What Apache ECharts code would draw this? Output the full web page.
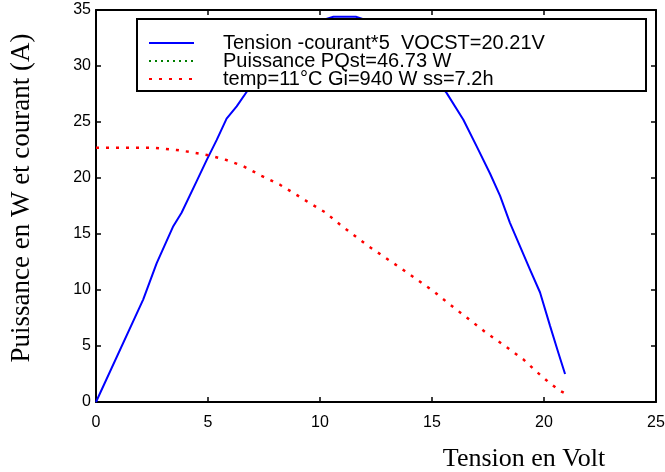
<!DOCTYPE html>
<html>
<head>
<meta charset="utf-8">
<script src="https://cdn.jsdelivr.net/npm/echarts@6/dist/echarts.min.js"></script>
<style>html,body{margin:0;padding:0;background:#fff}#c{width:665px;height:472px}</style>
</head>
<body>
<div id="c"></div>
<script>
var xTicks = [0, 5, 10, 15, 20, 25];
var yTicks = [0, 5, 10, 15, 20, 25, 30, 35];
var seriesNames = ['Tension -courant*5  VOCST=20.21V', 'Puissance PQst=46.73 W', 'temp=11\u00b0C Gi=940 W ss=7.2h'];

var blueX = [0, 2.11, 2.71, 3.45, 3.82, 4.49, 4.94, 5.39, 5.83, 6.28, 6.73, 7.5, 8.5, 9.5, 10.6, 11.6, 12.5, 13.5, 14.5, 15.65, 16.4, 17.0, 17.59, 18.04, 18.48, 18.93, 19.38, 19.82, 20.27, 20.64, 20.94];
var blueY = [0, 9.17, 12.4, 15.7, 16.9, 19.7, 21.6, 23.4, 25.3, 26.4, 27.7, 30.0, 32.3, 33.7, 34.4, 34.4, 33.8, 32.3, 30.3, 27.6, 25.2, 22.8, 20.4, 18.4, 16.0, 13.9, 11.8, 9.8, 6.8, 4.4, 2.5];

var greenX = [];
var greenY = [];

var redX = [0, 2.56, 3.6, 4.27, 5.09, 5.83, 6.58, 7.39, 8.21, 9.03, 9.55, 10.22, 10.89, 12.1, 13.57, 15.06, 15.8, 16.77, 17.37, 18.26, 19.08, 19.67, 20.19, 20.71, 20.94];
var redY = [22.7, 22.7, 22.5, 22.3, 22.0, 21.6, 21.05, 20.2, 19.4, 18.4, 17.75, 16.95, 15.85, 14.0, 12.0, 9.9, 8.7, 7.2, 6.26, 5.0, 3.8, 2.7, 1.8, 1.0, 0.77];

function pairs(xs, ys) { return xs.map(function (x, i) { return [x, ys[i]]; }); }

var chart = echarts.init(document.getElementById('c'), null, {renderer: 'canvas'});
var axisFont = {fontFamily: 'Liberation Sans, Arial, sans-serif', fontSize: 16, color: '#000'};
var lineAx = {lineStyle: {color: '#000', width: 2}, onZero: false};
var tickIn = {inside: true, length: 5, lineStyle: {color: '#000', width: 1.5}};
var serif = 'Liberation Serif, Times New Roman, serif';

chart.setOption({
  animation: false,
  backgroundColor: '#fff',
  grid: {left: 96, right: 9, top: 10, bottom: 70, containLabel: false, outerBoundsMode: 'none'},
  xAxis: [{
    type: 'value', min: 0, max: 25, interval: 5,
    axisLine: lineAx, axisTick: tickIn, splitLine: {show: false},
    axisLabel: Object.assign({margin: 13, formatter: function (v) { return xTicks.indexOf(v) >= 0 ? String(v) : ''; }}, axisFont),
    name: 'Tension en Volt', nameLocation: 'middle', nameGap: 44,
    nameTextStyle: {fontFamily: serif, fontSize: 26, color: '#000', padding: [0, 0, 0, 296]}
  }, {
    type: 'value', position: 'top', min: 0, max: 25, interval: 5,
    axisLine: lineAx, axisTick: tickIn, axisLabel: {show: false}, splitLine: {show: false}
  }],
  yAxis: [{
    type: 'value', min: 0, max: 35, interval: 5,
    axisLine: lineAx, axisTick: tickIn, splitLine: {show: false},
    axisLabel: Object.assign({margin: 5, padding: [7, 0, 0, 0], formatter: function (v) { return yTicks.indexOf(v) >= 0 ? String(v) : ''; }}, axisFont),
    name: 'Puissance en W et courant (A)', nameLocation: 'middle', nameGap: 61,
    nameTextStyle: {fontFamily: serif, fontSize: 27, color: '#000', padding: [0, 0, 0, 16]}
  }, {
    type: 'value', position: 'right', min: 0, max: 35, interval: 5,
    axisLine: lineAx, axisTick: tickIn, axisLabel: {show: false}, splitLine: {show: false}
  }],
  legend: {
    orient: 'vertical', left: 148, top: 33, itemGap: -2, itemWidth: 45, itemHeight: 12,
    padding: 0, z: 10,
    itemStyle: {opacity: 0},
    textStyle: {fontFamily: 'Liberation Sans, Arial, sans-serif', fontSize: 20, lineHeight: 13, color: '#000', padding: [5, 0, 0, 24]},
    data: seriesNames
  },
  graphic: [{
    type: 'rect', z: 5, shape: {x: 137, y: 19, width: 509, height: 72},
    style: {fill: '#fff', stroke: '#000', lineWidth: 2}
  }],
  series: [{
    name: seriesNames[0], type: 'line', data: pairs(blueX, blueY), symbol: 'none', clip: true,
    lineStyle: {color: '#0000ff', width: 2}, itemStyle: {color: '#0000ff'}
  }, {
    name: seriesNames[1], type: 'line', data: pairs(greenX, greenY), symbol: 'none',
    lineStyle: {color: '#007f00', width: 3, type: [2, 4]}, itemStyle: {color: '#007f00'}
  }, {
    name: seriesNames[2], type: 'line', data: pairs(redX, redY), symbol: 'none', clip: true,
    lineStyle: {color: '#ff0000', width: 2.5, type: [3, 7]}, itemStyle: {color: '#ff0000'}
  }]
});
</script>
</body>
</html>
